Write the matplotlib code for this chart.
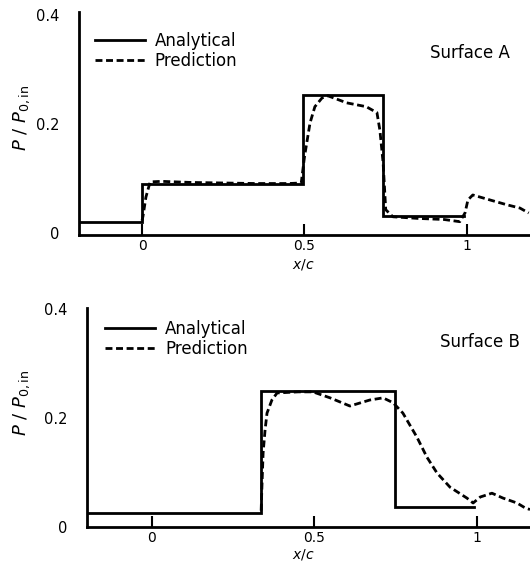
# ================================
# Pressure distribution on surfaces A and B
# Analytical vs prediction, P/P0,in along x/c
# ================================

import matplotlib
matplotlib.use("Agg")
import matplotlib.pyplot as plt

# -------- Data --------
# Surface A
x_anal_a = [-0.2, 0.0, 0.0, 0.495, 0.495, 0.742, 0.742, 0.99]
y_anal_a = [0.020, 0.020, 0.090, 0.090, 0.252, 0.252, 0.031, 0.031]

x_pred_a = [0.0, 0.003, 0.012, 0.025, 0.06, 0.15, 0.25, 0.35, 0.45, 0.49,
            0.50, 0.517, 0.532, 0.554, 0.572, 0.63, 0.69, 0.723, 0.732,
            0.742, 0.75, 0.772, 0.85, 0.93, 0.978, 0.994, 1.003, 1.018,
            1.07, 1.123, 1.163, 1.19]
y_pred_a = [0.022, 0.030, 0.065, 0.093, 0.094, 0.092, 0.091, 0.090, 0.090,
            0.091, 0.139, 0.201, 0.231, 0.247, 0.251, 0.238, 0.231, 0.220,
            0.188, 0.128, 0.042, 0.029, 0.026, 0.024, 0.020, 0.036, 0.060,
            0.069, 0.060, 0.051, 0.045, 0.036]

# Surface B
x_anal_b = [-0.2, 0.335, 0.335, 0.748, 0.748, 0.99]
y_anal_b = [0.026, 0.026, 0.250, 0.250, 0.037, 0.037]

x_pred_b = [0.336, 0.338, 0.342, 0.348, 0.354, 0.369, 0.385, 0.45, 0.495,
            0.548, 0.609, 0.67, 0.711, 0.742, 0.772, 0.815, 0.846, 0.877,
            0.917, 0.969, 0.988, 1.01, 1.046, 1.08, 1.123, 1.148, 1.163]
y_pred_b = [0.030, 0.068, 0.136, 0.178, 0.209, 0.233, 0.246, 0.248, 0.248,
            0.237, 0.222, 0.233, 0.237, 0.228, 0.209, 0.165, 0.128, 0.099,
            0.073, 0.053, 0.044, 0.055, 0.062, 0.053, 0.044, 0.035, 0.032]

x_ticks = [0, 0.5, 1]
x_tick_labels = ["0", "0.5", "1"]
y_ticks = [0, 0.2, 0.4]
y_tick_labels = ["0", "0.2", "0.4"]

plt.rcParams["font.family"] = ["DejaVu Sans"]

fig = plt.figure(figsize=(5.3, 5.63), dpi=100)
ax_a = fig.add_axes([0.149, 0.583, 0.851, 0.396])
ax_b = fig.add_axes([0.164, 0.064, 0.836, 0.389])

panels = [
    (ax_a, x_anal_a, y_anal_a, x_pred_a, y_pred_a, "Surface A",
     (-0.194, 1.194), (-0.004, 0.405), (0.035, 0.91), (0.867, 0.816), 0.79, 0.523),
    (ax_b, x_anal_b, y_anal_b, x_pred_b, y_pred_b, "Surface B",
     (-0.2, 1.163), (0.0, 0.402), (0.041, 0.945), (0.887, 0.845), 0.284, 0.008),
]

for ax, xa, ya, xp, yp, name, xl, yl, leg_pos, name_pos, ylab_y, xlab_y in panels:
    ax.plot(xa, ya, color="black", lw=2.0, solid_joinstyle="miter",
            label="Analytical")
    ax.plot(xp, yp, color="black", lw=2.0, linestyle=(0, (2.5, 1.3)),
            label="Prediction")

    ax.set_xlim(*xl)
    ax.set_ylim(*yl)
    for side in ["top", "right"]:
        ax.spines[side].set_visible(False)
    for side in ["left", "bottom"]:
        ax.spines[side].set_linewidth(2.0)

    ax.set_xticks(x_ticks)
    ax.set_xticklabels(x_tick_labels, fontsize=10)
    ax.set_yticks(y_ticks)
    ax.set_yticklabels(y_tick_labels, fontsize=10.5)
    ax.tick_params(axis="x", direction="in", length=8, width=1.5, pad=3)
    ax.tick_params(axis="y", length=0, pad=14)

    ax.legend(loc="upper left", bbox_to_anchor=leg_pos, frameon=False,
              fontsize=12, borderpad=0, borderaxespad=0, handlelength=3.0,
              handletextpad=0.6, labelspacing=0.1)
    ax.text(name_pos[0], name_pos[1], name, transform=ax.transAxes,
            fontsize=12, ha="center", va="center")

    fig.text(0.0415, ylab_y, r"$P\ /\ P_{0,\mathrm{in}}$", rotation=90,
             fontsize=13, ha="center", va="center")
    fig.text(0.572, xlab_y, r"$x/c$", fontsize=10, ha="center",
             va="baseline")

plt.savefig("out.png", dpi=100)
